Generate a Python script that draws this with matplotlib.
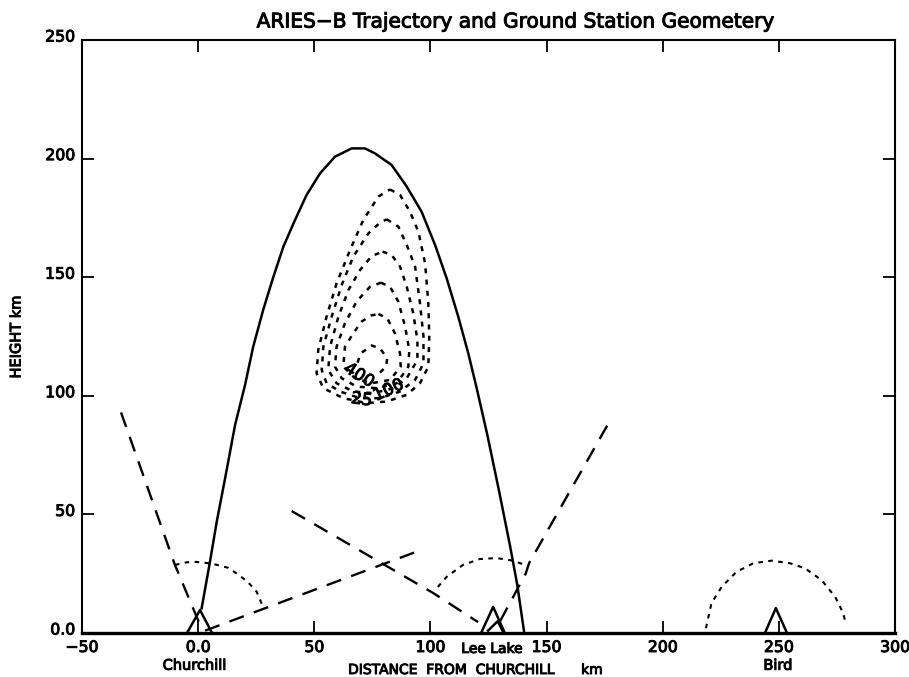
import matplotlib
matplotlib.use("Agg")
import matplotlib.pyplot as plt
import matplotlib.patheffects as pe
from matplotlib.transforms import ScaledTranslation

# Trajectory
traj_x = [1.5, 5.1, 8.0, 11.6, 15.9, 20.2, 23.7, 28.0, 32.4, 36.7, 41.7, 46.7, 52.5, 58.9, 66.1, 71.8, 76.1,
          83.3, 89.8, 96.2, 102.0, 107.0, 112.0, 116.3, 119.8, 124.5, 129.6, 134.2, 137.4, 140.4]
traj_y = [10.4, 30.1, 46.9, 65.2, 87.7, 104.6, 120.7, 136.2, 150.2, 162.9, 174.1, 184.7, 193.8, 200.8, 204.3, 204.3, 202.2,
          197.3, 188.2, 177.6, 163.6, 149.5, 133.3, 117.9, 103.7, 83.5, 59.6, 37.1, 20.2, 0]

# Contours, outer to inner
c25_x = [82.6, 86.9, 91.2, 94.8, 97.7, 99.1, 99.5, 99.1, 95.5, 89.8, 81.2, 72.6, 62.5, 53.9, 51.0, 51.7, 55.3, 59.6, 65.4, 71.1, 77.6, 82.6]
c25_y = [187.0, 184.7, 177.6, 169.2, 155.9, 139.0, 125.0, 112.3, 105.3, 100.4, 97.6, 96.9, 99.0, 103.2, 109.5, 119.3, 133.4, 147.4, 161.5, 174.1, 184.0, 187.0]
c50_x = [81.2, 86.2, 89.8, 93.4, 95.5, 97.0, 97.0, 93.4, 86.9, 78.3, 69.7, 61.1, 55.3, 53.2, 53.9, 57.5, 61.8, 66.8, 73.3, 78.3, 81.2]
c50_y = [174.4, 171.3, 163.6, 154.5, 139.0, 125.0, 113.7, 106.7, 101.8, 99.0, 99.0, 101.8, 105.3, 110.9, 120.7, 133.4, 146.7, 158.7, 168.5, 173.0, 174.4]
c100_x = [79.4, 83.3, 86.9, 89.8, 92.6, 94.4, 94.4, 89.8, 84.0, 75.4, 66.8, 59.6, 56.0, 56.8, 60.4, 64.7, 69.7, 74.7, 79.4]
c100_y = [160.8, 159.4, 154.5, 146.0, 134.8, 123.5, 115.1, 107.4, 103.2, 101.1, 101.8, 105.3, 110.9, 120.7, 133.4, 144.6, 153.0, 158.9, 160.8]
c200_x = [78.7, 82.6, 86.2, 89.1, 90.9, 90.5, 85.5, 76.9, 68.2, 61.8, 58.9, 59.6, 63.2, 68.2, 74.0, 78.7]
c200_y = [147.7, 146.0, 139.7, 129.2, 119.3, 112.3, 105.3, 103.2, 103.9, 107.4, 112.3, 120.7, 130.6, 139.7, 146.0, 147.7]
c300_x = [77.6, 81.4, 84.7, 86.9, 87.2, 82.6, 74.7, 67.5, 62.5, 63.2, 66.8, 70.4, 74.3, 77.6]
c300_y = [134.5, 132.7, 126.4, 117.9, 112.3, 106.7, 105.3, 107.4, 112.3, 120.7, 126.4, 131.3, 133.8, 134.5]
c400_x = [78.3, 80.9, 81.4, 78.3, 74.7, 70.0, 68.5]
c400_y = [109.8, 112.3, 115.8, 120.0, 121.2, 117.9, 113.7]
contours = [(c25_x, c25_y), (c50_x, c50_y), (c100_x, c100_y), (c200_x, c200_y), (c300_x, c300_y), (c400_x, c400_y)]

# Sight lines
sight1_x = [-33.2, -10, 1]
sight1_y = [93, 28.7, 3]
sight2_x = [3, 96]
sight2_y = [1, 35]
sight3_x = [40.3, 101.1, 120.5]
sight3_y = [51.4, 16.9, 4.6]
sight4_x = [130, 141, 142.5, 177]
sight4_y = [5, 25, 29.5, 89]

# Range arcs
arc1_x = [-10, -5, -1.4, 5.8, 12.9, 17.2, 21.5, 25.2, 27.9]
arc1_y = [28.7, 29.8, 30, 29.3, 27.5, 24.7, 21.4, 17.4, 11.1]
arc2_x = [103.2, 107, 114, 121.3, 128.5, 135.5, 140.7]
arc2_y = [19.4, 23.7, 28.7, 31.2, 31.6, 30.5, 28.7]
arc3_x = [218.6, 221, 225.4, 231.8, 239, 246.9, 254.8, 261.2, 268.4, 274.2, 277.7, 278.9]
arc3_y = [2, 12.6, 19.5, 25.8, 29.4, 30.5, 29.4, 27.3, 22.3, 15.3, 8.4, 3.4]

# Stations
station_names = ["Churchill", "Lee Lake", "Bird"]
tri1_x = [-4.8, 0.8, 6]
tri1_y = [0, 9.7, 0]
tri2_x = [121.8, 127, 132]
tri2_y = [0, 11, 0]
tri2b_x = [124.8, 129, 131.5]
tri2b_y = [1, 5, 0]
tri3_x = [244, 248.7, 253.5]
tri3_y = [0, 10.5, 0]

x_ticks = [-50, 0, 50, 100, 150, 200, 250, 300]
x_labels = ["\u221250", "0.0", "50", "100", "150", "200", "250", "300"]
y_ticks = [0, 50, 100, 150, 200, 250]
y_labels = ["0.0", "50", "100", "150", "200", "250"]

fig = plt.figure(figsize=(9.09, 6.77), dpi=100)
ax = fig.add_axes([82 / 909, 1 - 633 / 677, 813 / 909, 593 / 677])

ax.plot(traj_x, traj_y, color="black", lw=1.8)
for cx, cy in contours:
    ax.plot(cx, cy, color="black", lw=1.8, dashes=(2.0, 2.5))

for sx, sy in [(sight1_x, sight1_y), (sight2_x, sight2_y), (sight3_x, sight3_y), (sight4_x, sight4_y)]:
    ax.plot(sx, sy, color="black", lw=1.7, dashes=(6.5, 4.5))
for arc_x, arc_y in [(arc1_x, arc1_y), (arc2_x, arc2_y), (arc3_x, arc3_y)]:
    ax.plot(arc_x, arc_y, color="black", lw=1.5, dashes=(2.2, 2.6))
for tx, ty in [(tri1_x, tri1_y), (tri2_x, tri2_y), (tri2b_x, tri2b_y), (tri3_x, tri3_y)]:
    ax.plot(tx, ty, color="black", lw=1.8)

# contour labels
texts = [
    ax.text(69.4, 108.8, "400", rotation=-32, fontsize=12, ha="center", va="center"),
    ax.text(81.9, 102.5, "100", rotation=25, fontsize=12, ha="center", va="center"),
    ax.text(70.4, 98.5, "25", rotation=-8, fontsize=12, ha="center", va="center"),
]

ax.set_xlim(-50, 300)
ax.set_ylim(0, 250)
ax.set_xticks(x_ticks, x_labels)
ax.set_yticks(y_ticks, y_labels)
ax.tick_params(direction="in", length=8.6, width=1.3, top=True, right=True, labelsize=11.3, pad=5)
for s in ax.spines.values():
    s.set_linewidth(1.5)
ax.spines["bottom"].set_linewidth(2.4)

# y labels sit a little above their ticks
up = ScaledTranslation(0, 4.5 / 100, fig.dpi_scale_trans)
for lab in ax.get_yticklabels():
    lab.set_transform(lab.get_transform() + up)

texts.append(fig.text(516 / 909, 1 - 22 / 677, "ARIES\u2212B Trajectory and Ground Station Geometery", fontsize=14.5, ha="center", va="center"))
texts.append(ax.text(-1.4, -13.6, station_names[0], ha="center", va="center", fontsize=10.5))
texts.append(ax.text(126.5, -6.7, station_names[1], ha="center", va="center", fontsize=10))
texts.append(ax.text(249.6, -13.6, station_names[2], ha="center", va="center", fontsize=10.5))
texts.append(fig.text(475 / 909, 1 - 670 / 677, "DISTANCE  FROM  CHURCHILL      km", fontsize=10, ha="center", va="center"))
texts.append(fig.text(16 / 909, 1 - 337 / 677, "HEIGHT km", rotation=90, fontsize=10.5, ha="center", va="center"))

# scanned print looks heavier than the plain font
for t in texts + ax.get_xticklabels() + ax.get_yticklabels():
    t.set_path_effects([pe.withStroke(linewidth=0.7, foreground="black")])

fig.savefig("out.png", dpi=100)
